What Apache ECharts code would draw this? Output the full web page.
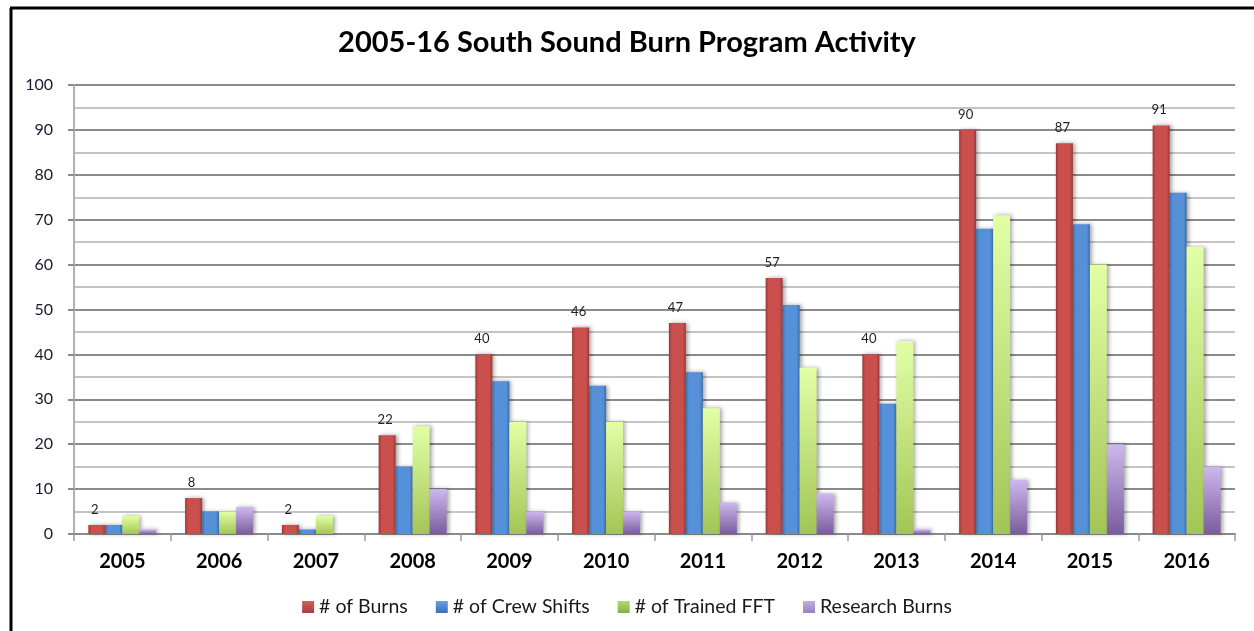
<!DOCTYPE html>
<html><head><meta charset="utf-8">
<script src="https://cdn.jsdelivr.net/npm/echarts@6/dist/echarts.min.js"></script>
<style>html,body{margin:0;padding:0;background:#fff}#c{width:1254px;height:631px}</style>
</head><body><div id="c"></div>
<script>
const years = ['2005','2006','2007','2008','2009','2010','2011','2012','2013','2014','2015','2016'];
const burns = [2,8,2,22,40,46,47,57,40,90,87,91];
const crewShifts = [2,5,1,15,34,33,36,51,29,68,69,76];
const trainedFFT = [4,5,4,24,25,25,28,37,43,71,60,64];
const researchBurns = [1,6,0,10,5,5,7,9,1,12,20,15];
const seriesNames = ['# of Burns','# of Crew Shifts','# of Trained FFT','Research Burns'];
const yTicks = {min:0, max:100, interval:10};

function hgrad(edge, main){
  return {type:'linear',x:0,y:0,x2:1,y2:0,colorStops:[
    {offset:0,color:edge},{offset:0.18,color:main},{offset:0.82,color:main},{offset:1,color:edge}]};
}
function vgrad(top, bottom){
  return {type:'linear',x:0,y:0,x2:0,y2:1,colorStops:[{offset:0,color:top},{offset:1,color:bottom}]};
}
const fills = [
  hgrad('#9c3734','#c9504d'),
  hgrad('#3c6ea8','#5590d8'),
  vgrad('#e2ffa6','#a3c556'),
  vgrad('#cdb8ee','#7a5c9c')
];
const legendColors = [vgrad('#d0605c','#a53f3c'),vgrad('#6a9ee0','#3f70b0'),vgrad('#b6d870','#8aab48'),vgrad('#c2aee0','#9a80c0')];
const datas = [burns, crewShifts, trainedFFT, researchBurns];
const F = 'Lato';

const chart = echarts.init(document.getElementById('c'));
chart.setOption({
  animation:false,
  title:{text:'2005-16 South Sound Burn Program Activity',left:'center',top:23,
    textStyle:{fontFamily:F,fontWeight:'bold',fontSize:29,color:'#000'}},
  legend:{bottom:9,left:'center',icon:'rect',itemWidth:12,itemHeight:12,itemGap:28,itemTextGap:4,
    textStyle:{fontFamily:F,fontSize:19.5,color:'#1a1a1a'},
    data:seriesNames.map((n,i)=>({name:n,itemStyle:{color:legendColors[i]}}))},
  grid:{left:74,right:19,top:85,bottom:97},
  xAxis:{type:'category',data:years,
    axisLine:{lineStyle:{color:'#8a8a8a',width:2}},
    axisTick:{show:true,length:7,lineStyle:{color:'#9a9a9a',width:1.5}},
    axisLabel:{fontFamily:F,fontWeight:'bold',fontSize:20,color:'#000',margin:18}},
  yAxis:{type:'value',min:yTicks.min,max:yTicks.max,interval:yTicks.interval,
    axisLine:{show:true,lineStyle:{color:'#b0b0b0',width:2}},
    axisTick:{show:true,length:6,lineStyle:{color:'#8a8a8a',width:2}},
    axisLabel:{fontFamily:F,fontSize:16,color:'#1a1a2e',margin:21},
    splitLine:{lineStyle:{color:'#8a8a8a',width:2}},
    minorTick:{show:false,splitNumber:2},
    minorSplitLine:{show:true,lineStyle:{color:'#c4c4c4',width:2}}},
  graphic:[
    {type:'line',shape:{x1:11,y1:8,x2:11,y2:631},style:{stroke:'#000',lineWidth:3},z:100},
    {type:'line',shape:{x1:10,y1:8,x2:1254,y2:8},style:{stroke:'#000',lineWidth:3},z:100}
  ],
  series: datas.map((d,i)=>({
    name:seriesNames[i],type:'bar',data:d,barWidth:17,barGap:'0%',
    itemStyle:{color:fills[i],shadowBlur:4,shadowColor:'rgba(0,0,0,0.35)',shadowOffsetX:2,shadowOffsetY:0},
    label: i===0 ? {show:true,position:'top',distance:9,fontFamily:F,fontSize:13,color:'#222',offset:[-2,0]} : {show:false}
  }))
});
</script></body></html>
